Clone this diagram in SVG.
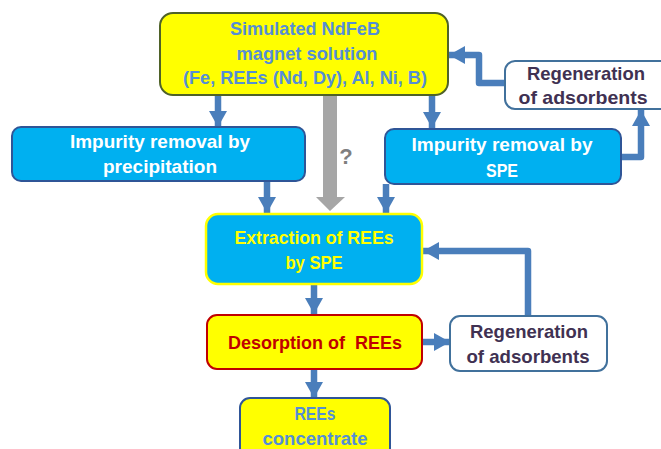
<svg xmlns="http://www.w3.org/2000/svg" width="661" height="449" viewBox="0 0 661 449">
<defs>
<style>
.t{font-family:"Liberation Sans",Arial,sans-serif;font-weight:bold;font-size:18.5px;text-anchor:middle}
.blue{fill:#558ed5}
.white{fill:#ffffff}
.purple{fill:#403152}
.yel{fill:#ffff00}
.red{fill:#c00000}
.box{stroke-width:2}
.conn{fill:none;stroke:#4a7ebb;stroke-width:6.5;stroke-linejoin:round}
</style>
<marker id="ah" markerUnits="userSpaceOnUse" markerWidth="18" markerHeight="18" viewBox="0 0 16 18" refX="16" refY="9" orient="auto">
<path d="M0,0 L16,9 L0,18 z" fill="#4a7ebb"/>
</marker>
</defs>
<rect width="661" height="449" fill="#ffffff"/>

<g id="connectors">
<path class="conn" d="M218,95 V127" marker-end="url(#ah)"/>
<path class="conn" d="M432,95 V128" marker-end="url(#ah)"/>
<path class="conn" d="M267,181 V213" marker-end="url(#ah)"/>
<path class="conn" d="M386,184 V213" marker-end="url(#ah)"/>
<polygon points="323,95 337,95 337,197 345,197 330,211 316,197 323,197" fill="#a6a6a6"/>
<path class="conn" d="M505,83 H479 V55 H449" marker-end="url(#ah)"/>
<path class="conn" d="M621,157 H641 V110" marker-end="url(#ah)"/>
<path class="conn" d="M314,284 V314" marker-end="url(#ah)"/>
<path class="conn" d="M422,342 H450" marker-end="url(#ah)"/>
<path class="conn" d="M528,316 V251 H423" marker-end="url(#ah)"/>
<path class="conn" d="M314,369 V398" marker-end="url(#ah)"/>
<text x="346" y="164" style="font-family:'Liberation Sans',Arial,sans-serif;font-weight:bold;font-size:22px;text-anchor:middle" fill="#7f7f7f">?</text>
</g>

<g id="source">
<rect class="box" x="160" y="13" width="288" height="82" rx="13" fill="#ffff00" stroke="#4f6228"/>
<text class="t blue" x="305" y="35" textLength="150" lengthAdjust="spacingAndGlyphs">Simulated NdFeB</text>
<text class="t blue" x="307" y="60" textLength="141" lengthAdjust="spacingAndGlyphs">magnet solution</text>
<text class="t blue" x="305" y="84" textLength="244" lengthAdjust="spacingAndGlyphs">(Fe, REEs (Nd, Dy), Al, Ni, B)</text>
</g>

<g id="precip">
<rect class="box" x="12" y="127" width="293" height="54" rx="9" fill="#00b0f0" stroke="#2f5597"/>
<text class="t white" x="160" y="148" textLength="180" lengthAdjust="spacingAndGlyphs">Impurity removal by</text>
<text class="t white" x="160" y="173" textLength="114" lengthAdjust="spacingAndGlyphs">precipitation</text>
</g>

<g id="spe-impurity">
<rect class="box" x="385" y="129" width="236" height="55" rx="9" fill="#00b0f0" stroke="#2f5597"/>
<text class="t white" x="502" y="151" textLength="181" lengthAdjust="spacingAndGlyphs">Impurity removal by</text>
<text class="t white" x="502" y="177" textLength="32" lengthAdjust="spacingAndGlyphs">SPE</text>
</g>

<g id="regen-top">
<rect class="box" x="505" y="61" width="175" height="48" rx="10" fill="#ffffff" stroke="#41719c"/>
<text class="t purple" x="586" y="80" textLength="118" lengthAdjust="spacingAndGlyphs">Regeneration</text>
<text class="t purple" x="583" y="104" textLength="129" lengthAdjust="spacingAndGlyphs">of adsorbents</text>
</g>

<g id="extraction">
<rect x="206" y="214" width="216" height="70" rx="12" fill="#00b0f0" stroke="#ffff00" stroke-width="2.5"/>
<text class="t yel" x="314" y="244" textLength="159" lengthAdjust="spacingAndGlyphs">Extraction of REEs</text>
<text class="t yel" x="314" y="269" textLength="57" lengthAdjust="spacingAndGlyphs">by SPE</text>
</g>

<g id="desorption">
<rect class="box" x="207" y="315" width="215" height="54" rx="10" fill="#ffff00" stroke="#c00000"/>
<text class="t red" x="315" y="349" textLength="174" lengthAdjust="spacingAndGlyphs" xml:space="preserve">Desorption of  REEs</text>
</g>

<g id="regen-bottom">
<rect class="box" x="450" y="316" width="157" height="55" rx="10" fill="#ffffff" stroke="#41719c"/>
<text class="t purple" x="529" y="338" textLength="118" lengthAdjust="spacingAndGlyphs">Regeneration</text>
<text class="t purple" x="528" y="363" textLength="123" lengthAdjust="spacingAndGlyphs">of adsorbents</text>
</g>

<g id="concentrate">
<rect class="box" x="240" y="398" width="150" height="65" rx="10" fill="#ffff00" stroke="#2f5597"/>
<text class="t blue" x="315" y="420" textLength="41" lengthAdjust="spacingAndGlyphs">REEs</text>
<text class="t blue" x="315" y="445" textLength="105" lengthAdjust="spacingAndGlyphs">concentrate</text>
</g>
</svg>
